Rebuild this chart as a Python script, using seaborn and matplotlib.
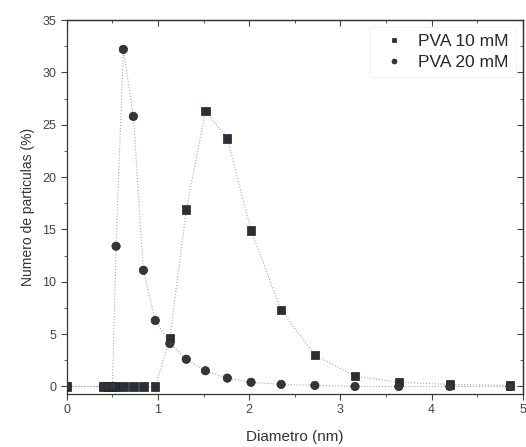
import pandas as pd
import numpy as np
import matplotlib.pyplot as plt
import seaborn as sns
from matplotlib.ticker import MultipleLocator

# data
diametro = [0.0, 0.40, 0.45, 0.50, 0.54, 0.62, 0.73, 0.84, 0.97, 1.13, 1.31, 1.52,
            1.76, 2.02, 2.35, 2.72, 3.16, 3.64, 4.20, 4.86]
pva_10 = [0.0, 0.0, 0.0, 0.0, 0.0, 0.0, 0.0, 0.0, 0.0, 4.6, 16.9, 26.3,
          23.7, 14.9, 7.3, 3.0, 1.0, 0.4, 0.2, 0.1]
pva_20 = [0.0, 0.0, 0.0, 0.0, 13.4, 32.2, 25.8, 11.1, 6.3, 4.1, 2.6, 1.5,
          0.8, 0.4, 0.2, 0.1, 0.0, 0.0, 0.0, 0.0]
series = ["PVA 10 mM", "PVA 20 mM"]

df = pd.DataFrame({"x": diametro * 2,
                   "y": pva_10 + pva_20,
                   "serie": [series[0]] * len(diametro) + [series[1]] * len(diametro)})

sns.set_style("ticks")
plt.rcParams['font.family'] = ['Liberation Sans', 'DejaVu Sans']

fig = plt.figure(figsize=(5.26, 4.47), dpi=100)
ax = fig.add_axes([0.127, 0.119, 0.867, 0.836])

# thin dotted connecting lines
sns.lineplot(data=df, x="x", y="y", hue="serie", palette=["#a8a8a8", "#a8a8a8"],
             linewidth=0.8, linestyle=":", legend=False, ax=ax, sort=False)
sns.scatterplot(data=df, x="x", y="y", hue="serie", style="serie",
                markers={series[0]: "s", series[1]: "o"},
                palette=["#2a2e36", "#33363d"], s=36, edgecolor="#222222",
                linewidth=0.5, ax=ax, zorder=3)

ax.set_xlim(0, 5)
ax.set_ylim(-0.7, 35)
ax.xaxis.set_major_locator(MultipleLocator(1))
ax.xaxis.set_minor_locator(MultipleLocator(0.5))
ax.yaxis.set_major_locator(MultipleLocator(5))
ax.yaxis.set_minor_locator(MultipleLocator(2.5))
ax.tick_params(which="both", direction="out", labelsize=9, colors="#444444")
ax.tick_params(which="major", length=4)
ax.tick_params(which="minor", length=2.5)

# inward ticks on top and right
top = ax.secondary_xaxis("top")
right = ax.secondary_yaxis("right")
top.xaxis.set_major_locator(MultipleLocator(1))
top.xaxis.set_minor_locator(MultipleLocator(0.5))
right.yaxis.set_major_locator(MultipleLocator(5))
right.yaxis.set_minor_locator(MultipleLocator(2.5))
for sec in (top, right):
    sec.tick_params(which="both", direction="in", labelsize=0, colors="#444444")
    sec.tick_params(which="major", length=4)
    sec.tick_params(which="minor", length=2.5)
top.set_xticklabels([])
right.set_yticklabels([])

for sp in ax.spines.values():
    sp.set_color("#333333")
    sp.set_linewidth(0.9)
for sec in (top, right):
    for sp in sec.spines.values():
        sp.set_color("#333333")
        sp.set_linewidth(0.9)

ax.set_xlabel("Diametro (nm)", fontsize=11, color="#333333", labelpad=10)
ax.set_ylabel("Numero de particulas (%)", fontsize=10, color="#333333", labelpad=5)

leg = ax.legend(loc="upper right", fontsize=12.5, frameon=True, handletextpad=0.4,
                borderaxespad=0.4, markerscale=0.6, labelspacing=0.35,
                borderpad=0.4)
leg.get_frame().set_edgecolor("#ececec")
leg.get_frame().set_linewidth(0.6)
leg.set_title(None)

fig.savefig("out.png", dpi=100)
